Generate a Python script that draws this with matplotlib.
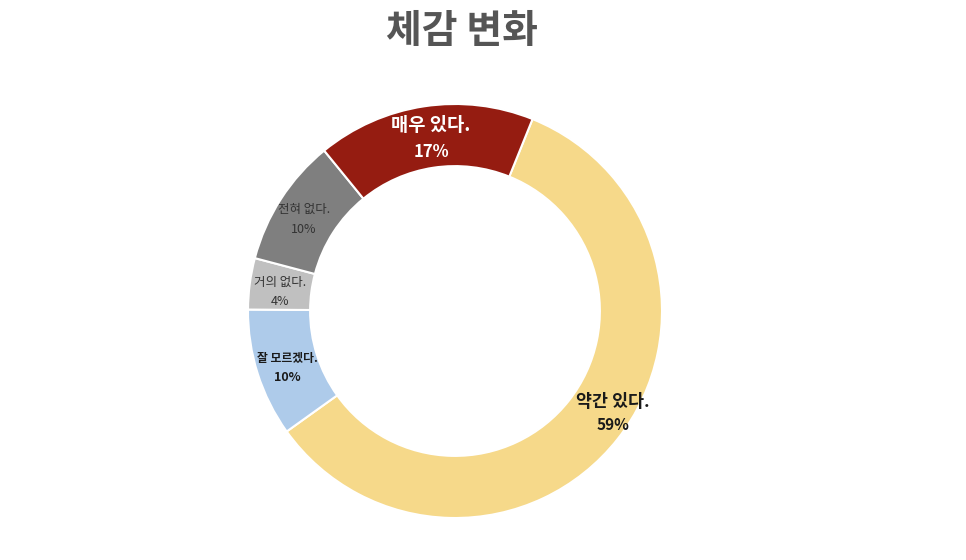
import matplotlib
matplotlib.use("Agg")
from matplotlib import pyplot as plt
import numpy as np

plt.rcParams['font.family'] = ['Noto Sans CJK KR', 'DejaVu Sans']

labels = ["약간 있다.", "잘 모르겠다.", "거의 없다.", "전혀 없다.", "매우 있다."]
values = [59, 10, 4, 10, 17]
colors = ["#F6D98A", "#AECBEA", "#C0C0C0", "#7F7F7F", "#951C11"]
text_colors = ["#1a1a1a", "#1a1a1a", "#333333", "#333333", "white"]
name_sizes = [12.5, 8.5, 9, 9, 13.5]
pct_sizes = [11, 9, 9, 9, 12]
weights = ["bold", "bold", "normal", "normal", "bold"]
# label placement: radius (fraction of outer), angle shift (deg), line gap (px)
label_r = [0.91, 0.857, 0.85, 0.852, 0.84]
label_shift = [5.3, 1.1, 1.4, 1.7, -0.7]
line_gap = [23, 19, 19, 20, 26]

W, H = 966, 560
fig = plt.figure(figsize=(W / 100, H / 100), dpi=100)
cx, cy, R = 455, 560 - 311, 207
ax = fig.add_axes([(cx - R) / W, (cy - R) / H, 2 * R / W, 2 * R / H])

wedges, _ = ax.pie(values, colors=colors, startangle=68, counterclock=False,
                   wedgeprops=dict(width=0.3, edgecolor="white", linewidth=1.5))
ax.set_xlim(-1, 1)
ax.set_ylim(-1, 1)
ax.set_aspect("equal")
ax.axis("off")

for i, w in enumerate(wedges):
    ang = np.deg2rad((w.theta1 + w.theta2) / 2 + label_shift[i])
    x = label_r[i] * np.cos(ang)
    y = label_r[i] * np.sin(ang)
    d = line_gap[i] / 2 / R
    ax.text(x, y + d, labels[i], ha="center", va="center", color=text_colors[i],
            fontsize=name_sizes[i], fontweight=weights[i])
    ax.text(x, y - d, f"{values[i]}%", ha="center", va="center", color=text_colors[i],
            fontsize=pct_sizes[i], fontweight=weights[i])

fig.text(462 / W, 1 - 31 / H, "체감 변화", ha="center", va="center",
         fontsize=28, fontweight="bold", color="#555555")

fig.savefig("out.png", dpi=100)
